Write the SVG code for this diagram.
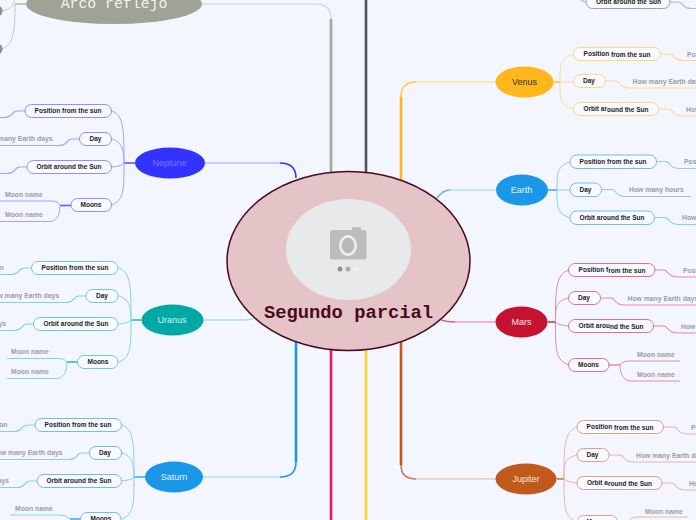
<svg xmlns="http://www.w3.org/2000/svg" width="696" height="520" viewBox="0 0 696 520">
<style>
text{font-family:"Liberation Sans",Arial,sans-serif}
.b text,text.b{font-size:6.5px;font-weight:700;fill:#1c1c24;text-anchor:middle}
.b rect{fill:#f8faff;stroke-width:1}
.s{font-size:6.8px;font-weight:700;fill:#9c9ca8}
.e{text-anchor:end}
.p{font-size:9px;text-anchor:middle}
#connectors path{fill:none;stroke-width:1}
#connectors .h{stroke-width:1.6}
#connectors .t{stroke-width:2.6}
#connectors .k{stroke-width:1.6}
.nep rect{stroke:#8f8fff}.ura rect{stroke:#66cfcf}.sat rect{stroke:#70bdf0}.ven rect{stroke:#ffd681}.ear rect{stroke:#70bdf0}.mar rect{stroke:#e2728c}.jup rect{stroke:#dda283}.gry rect{stroke:#9aa0ac}
path.nep{stroke:#a3a3ff}path.ura{stroke:#80d6d6}path.sat{stroke:#8ccbf4}path.ven{stroke:#ffd88c}path.ear{stroke:#8ccbf4}path.mar{stroke:#e88aa0}path.jup{stroke:#e5b8a0}path.gry{stroke:#b4b8c2}path.arc{stroke:#c6c9bf}
path.nep.h{stroke:#5c5cff}path.ura.h{stroke:#33bcbc}path.sat.h{stroke:#48acec}path.ven.h{stroke:#ffc440}path.ear.h{stroke:#48acec}path.mar.h{stroke:#d23c5c}path.jup.h{stroke:#cc7a48}
path.nep.k{stroke:#bcbcff}path.ura.k{stroke:#a5e3e3}path.sat.k{stroke:#b5ddf8}path.ven.k{stroke:#ffe0a0}path.ear.k{stroke:#b5ddf8}path.mar.k{stroke:#f0a5b8}path.jup.k{stroke:#eccdb8}
</style>
<rect width="696" height="520" fill="#f3f6ff"/>
<g id="connectors">
<path class="t" d="M366,0V180" style="stroke:#555"/>
<path d="M202,4H316Q331,4 331,19" style="stroke:#cfd2c9;stroke-width:1.2"/>
<path class="t" d="M331,19V180" style="stroke:#a4a89a"/>
<path class="nep k" d="M205,163H280"/>
<path class="h" d="M280,163Q296,163 296,178" style="stroke:#3333ff"/>
<path class="ura k" d="M203.500,320H243Q250,320 256,318"/>
<path class="t" d="M296,340V462" style="stroke:#1b97e8"/>
<path class="sat k" d="M203,477H280"/>
<path class="h" d="M280,477Q296,477 296,462" style="stroke:#1b97e8"/>
<path class="t" d="M331,345V520" style="stroke:#e0185f"/>
<path class="t" d="M366,345V520" style="stroke:#ffd21f"/>
<path class="t" d="M401,340V465" style="stroke:#c05a1c"/>
<path class="h" d="M401,465Q401,479 416,479" style="stroke:#c87a48"/>
<path class="jup k" d="M416,479H496"/>
<path class="mar k" d="M496,322H455"/>
<path class="h" d="M455,322Q447,322 441,320" style="stroke:#e0607c"/>
<path class="ear k" d="M496,190H450"/>
<path class="h" d="M450,190Q443,190 437,198" style="stroke:#60b4ee"/>
<path class="ven k" d="M496,82H416"/>
<path class="h" d="M416,82Q401,82 401,97" style="stroke:#ffc440"/>
<path class="t" d="M401,97V182" style="stroke:#ffb71b"/>

<path class="arc h" d="M26,4H15" style="stroke:#b8bbb0"/>
<path class="arc" d="M15,-6C15,4 12,9 2,11M15,4C15,30 14,44 2,49"/>

<path class="nep h" d="M135,163H124"/>
<path class="nep" d="M124,163C124,130 124,116 112,111M124,163C124,150 122,142 112,139M124,163Q122,166 112,167M124,163C124,190 124,200 112,205"/>
<path class="nep" d="M25,111H18Q14,111 12,114Q9,117.500 4,117.500H-2M79.500,139H72Q69,139 67,142Q64,145.500 59,145.500H-2M27,167H20Q17,167 15,170Q12,173.500 7,173.500H-2" style="stroke-width:1.2"/>
<path class="nep h" d="M71,205.500H60"/>
<path class="nep" d="M60,205.500Q58,201 52,201H-2M60,205.500C60,216 56,221.500 49,221.500H-2"/>

<path class="ura h" d="M141.500,320H131"/>
<path class="ura" d="M131,320C131,287 131,273 119,268M131,320C131,307 129,299 119,296M131,320Q129,323 119,324M131,320C131,347 131,357 119,362"/>
<path class="ura" d="M31.500,268H25Q21,268 19,271Q16,274.500 11,274.500H-2M86,296H79Q76,296 74,299Q71,302.500 66,302.500H-2M33,324H27Q24,324 22,327Q19,330.500 14,330.500H-2" style="stroke-width:1.2"/>
<path class="ura h" d="M77.500,362H67"/>
<path class="ura" d="M67,362Q65,358.500 59,358.500H7M67,362C67,373 63,378.500 56,378.500H7"/>

<path class="sat h" d="M145,477H134"/>
<path class="sat" d="M134,477C134,444 134,430 122,425M134,477C134,464 132,456 122,453M134,477Q132,480 122,481M134,477C134,504 134,514 122,519"/>
<path class="sat" d="M34.700,425H28Q24,425 22,428Q19,431.500 14,431.500H-2M89,453H82Q79,453 77,456Q74,459.500 69,459.500H-2M36.500,481H30Q27,481 25,484Q22,487.500 17,487.500H-2" style="stroke-width:1.2"/>
<path class="sat h" d="M80,519H70"/>
<path class="sat" d="M70,519Q66,515 60,515H10"/>

<path class="gry" d="M578,-6Q579,1 586,2M670,2H678Q681,2 683,5Q686,8.500 691,8.500H698" style="stroke-width:1.2"/>

<path class="ven h" d="M553.500,82H560"/>
<path class="ven" d="M560,82C560,65 560,58 573.500,54M560,82H573.500M560,82C560,100 560,105 573.500,109"/>
<path class="ven" d="M660.500,54H670Q672,54 674,57Q677,60.500 684,60.500H698M605.500,81H616Q618,81 620,84Q623,88 630,88H698M658.500,109H669Q671,109 673,112Q676,116 683,116H698" style="stroke-width:1.2"/>

<path class="ear h" d="M548,190H557"/>
<path class="ear" d="M557,190C557,173 557,166 570,162M557,190H570M557,190C557,208 557,213 570,218"/>
<path class="ear" d="M656.500,161.500H666Q668,161.500 670,164.500Q673,168.500 680,168.500H698M601.500,189.500H612Q614,189.500 616,192.500Q619,196.500 626,196.500H691M654.500,217.500H665Q667,217.500 669,220.500Q672,224.500 679,224.500H698" style="stroke-width:1.2"/>

<path class="mar h" d="M547.500,322H555.500"/>
<path class="mar" d="M555.500,322C555.500,290 555.500,275 568.500,270M555.500,322C555.500,308 555.500,301 568.500,298M555.500,322Q558,325 568.500,326M555.500,322C555.500,350 555.500,360 568.500,365"/>
<path class="mar" d="M655,270H664Q666,270 668,273Q671,277 678,277H698M600.500,298H611Q613,298 615,301Q618,305 625,305H698M653.500,326H664Q666,326 668,329Q671,333 678,333H698" style="stroke-width:1.2"/>
<path class="mar k" d="M609,365H620" style="stroke-width:2"/>
<path class="mar" d="M620,365Q622,361 630,361H680M620,365C620,375 624,381 632,381H680"/>

<path class="jup h" d="M556.500,479H564"/>
<path class="jup" d="M564,479C564,447 564,432 577,427M564,479C564,465 564,458 577,455M564,479Q567,482 577,483M564,479C564,507 564,517 577,522"/>
<path class="jup" d="M663.500,427H674Q676,427 678,430Q681,434 688,434H698M609,455H620Q622,455 624,458Q627,462 634,462H698M662,483H672Q674,483 676,486Q679,490 686,490H698" style="stroke-width:1.2"/>
<path class="jup h" d="M617.500,522H628"/>
<path class="jup" d="M628,522Q630,517 638,517H688M628,522C628,532 632,538 640,538H688"/>
</g>

<g id="arco"><ellipse cx="114" cy="4" rx="88" ry="20" fill="#9ea395"/><text x="114" y="8" text-anchor="middle" style="font-family:'Liberation Mono',monospace;font-size:14.800px;fill:#f2f3ee">Arco reflejo</text></g>
<g id="arco-a"><circle cx="-3" cy="11" r="5.500" fill="#8c9080"/></g>
<g id="arco-b"><circle cx="-3" cy="49" r="5.500" fill="#8c9080"/></g>

<g id="center">
<ellipse cx="348.500" cy="261" rx="121.500" ry="89.500" fill="#e5c4c8" stroke="#4a0a1e" stroke-width="1.500"/>
<ellipse cx="348.500" cy="249.500" rx="62.500" ry="50.500" fill="#e8e9eb"/>
<rect x="352" y="227" width="9" height="5" rx="1" fill="#bcbcbc"/>
<rect x="330" y="230" width="36.500" height="29.500" rx="2.500" fill="#bcbcbc"/>
<ellipse cx="348" cy="245.500" rx="9" ry="10.500" fill="#eceded"/>
<ellipse cx="348" cy="245.500" rx="6.300" ry="7.700" fill="#b8b8b8"/>
<circle cx="340" cy="269" r="2.500" fill="#909090"/><circle cx="348" cy="269" r="2.500" fill="#aaa"/><circle cx="356" cy="269" r="2.500" fill="#eef0f1"/>
<text x="348.500" y="318" text-anchor="middle" style="font-family:'Liberation Mono',monospace;font-weight:700;font-size:18.800px;fill:#4a0a1e">Segundo parcial</text>
</g>

<g id="neptune"><ellipse cx="170" cy="163" rx="35" ry="15.500" fill="#3333ff"/><text class="p" x="169.500" y="166" fill="#7a7aff">Neptune</text></g>
<g id="nep-pos" class="b nep"><rect x="25" y="104.500" width="86.500" height="13" rx="6.500"/><text x="68" y="113">Position from the sun</text></g>
<g id="nep-day" class="b nep"><rect x="79.500" y="132.500" width="32" height="13" rx="6.500"/><text x="95.500" y="141">Day</text></g>
<g id="nep-orb" class="b nep"><rect x="27" y="160.500" width="84.500" height="13" rx="6.500"/><text x="69" y="169">Orbit around the Sun</text></g>
<g id="nep-moons" class="b nep"><rect x="71" y="198.500" width="40.500" height="13" rx="6.500"/><text x="91" y="207">Moons</text></g>
<g id="nep-t"><text class="s e" x="52.500" y="141">How many Earth days</text><text class="s" x="5" y="197">Moon name</text><text class="s" x="5" y="217">Moon name</text></g>

<g id="uranus"><ellipse cx="172.500" cy="320" rx="31" ry="15.500" fill="#00a9a5"/><text class="p" x="172" y="323" fill="#d4f4f2">Uranus</text></g>
<g id="ura-pos" class="b ura"><rect x="31.500" y="261.500" width="86.500" height="13" rx="6.500"/><text x="75" y="270">Position from the sun</text></g>
<g id="ura-day" class="b ura"><rect x="86" y="289.500" width="32" height="13" rx="6.500"/><text x="102" y="298">Day</text></g>
<g id="ura-orb" class="b ura"><rect x="33.500" y="317.500" width="84.500" height="13" rx="6.500"/><text x="76" y="326">Orbit around the Sun</text></g>
<g id="ura-moons" class="b ura"><rect x="77.500" y="355.500" width="40.500" height="13" rx="6.500"/><text x="98" y="364">Moons</text></g>
<g id="ura-t"><text class="s e" x="4" y="270">Position</text><text class="s e" x="59" y="298">How many Earth days</text><text class="s e" x="6" y="326">How many Earth days</text><text class="s" x="11" y="354">Moon name</text><text class="s" x="11" y="374">Moon name</text></g>

<g id="saturn"><ellipse cx="174" cy="477" rx="29" ry="15.500" fill="#1b97e8"/><text class="p" x="174" y="480" fill="#e4f3fc">Saturn</text></g>
<g id="sat-pos" class="b sat"><rect x="35" y="418.500" width="86.500" height="13" rx="6.500"/><text x="78" y="427">Position from the sun</text></g>
<g id="sat-day" class="b sat"><rect x="89.500" y="446.500" width="32" height="13" rx="6.500"/><text x="105" y="455">Day</text></g>
<g id="sat-orb" class="b sat"><rect x="37" y="474.500" width="84.500" height="13" rx="6.500"/><text x="79" y="483">Orbit around the Sun</text></g>
<g id="sat-moons" class="b sat"><rect x="80.500" y="512.500" width="40.500" height="13" rx="6.500"/><text x="101" y="521">Moons</text></g>
<g id="sat-t"><text class="s e" x="7.500" y="427">Position</text><text class="s e" x="62.500" y="455">How many Earth days</text><text class="s e" x="9" y="483">How many Earth days</text><text class="s" x="15" y="511">Moon name</text></g>

<g id="gry-orb" class="b gry"><rect x="586" y="-4.500" width="84" height="13" rx="6.500"/><text x="628.500" y="4">Orbit around the Sun</text></g>

<g id="venus"><ellipse cx="524.500" cy="82" rx="29" ry="15.500" fill="#ffb71b"/><text class="p" x="524.500" y="85" fill="#33302a">Venus</text></g>
<g id="ven-pos" class="b ven"><rect x="573.500" y="47.500" width="87" height="13" rx="6.500"/><text x="617" y="56.500"><tspan dy="-1">Position</tspan><tspan dy="1"> from the sun</tspan></text></g>
<g id="ven-day" class="b ven"><rect x="573.500" y="74.500" width="32" height="13" rx="6.500"/><text x="589" y="82.500">Day</text></g>
<g id="ven-orb" class="b ven"><rect x="573.500" y="102.500" width="85" height="13" rx="6.500"/><text x="616" y="111.500"><tspan dy="-1">Orbit ar</tspan><tspan dy="1">ound the Sun</tspan></text></g>
<g id="ven-t"><text class="s" x="687" y="57">Position</text><text class="s" x="632.500" y="84">How many Earth days</text><text class="s" x="686" y="112">How many Earth days</text></g>

<g id="earth"><ellipse cx="522" cy="190" rx="26" ry="15.500" fill="#1b97e8"/><text class="p" x="521.500" y="193" fill="#e4f3fc">Earth</text></g>
<g id="ear-pos" class="b ear"><rect x="570" y="155" width="86.500" height="13.500" rx="6.700"/><text x="613" y="164">Position from the sun</text></g>
<g id="ear-day" class="b ear"><rect x="570" y="183" width="31.500" height="13.500" rx="6.700"/><text x="585.500" y="192">Day</text></g>
<g id="ear-orb" class="b ear"><rect x="570" y="211" width="84.500" height="13.500" rx="6.700"/><text x="612" y="220">Orbit around the Sun</text></g>
<g id="ear-t"><text class="s" x="684" y="164">Position</text><text class="s" x="629" y="192">How many hours</text><text class="s" x="682" y="220">How many Earth days</text></g>

<g id="mars"><ellipse cx="521.500" cy="322" rx="26" ry="15.500" fill="#c41230"/><text class="p" x="521.500" y="325" fill="#fbe3e7">Mars</text></g>
<g id="mar-pos" class="b mar"><rect x="568.500" y="263.500" width="86.500" height="13" rx="6.500"/><text x="612" y="272.500"><tspan dy="-1">Position f</tspan><tspan dy="1">rom the sun</tspan></text></g>
<g id="mar-day" class="b mar"><rect x="568.500" y="291.500" width="32" height="13" rx="6.500"/><text x="584" y="299.500">Day</text></g>
<g id="mar-orb" class="b mar"><rect x="568.500" y="319.500" width="85" height="13" rx="6.500"/><text x="611" y="328.500"><tspan dy="-1">Orbit arou</tspan><tspan dy="1">nd the Sun</tspan></text></g>
<g id="mar-moons" class="b mar"><rect x="568.500" y="358.500" width="40.500" height="13" rx="6.500"/><text x="588.500" y="367">Moons</text></g>
<g id="mar-t"><text class="s" x="683" y="273">Position</text><text class="s" x="627.500" y="301">How many Earth days</text><text class="s" x="681" y="329">How many Earth days</text><text class="s" x="637" y="357">Moon name</text><text class="s" x="637" y="377">Moon name</text></g>

<g id="jupiter"><ellipse cx="526" cy="479" rx="30.500" ry="15.500" fill="#c05a1c"/><text class="p" x="526" y="482" fill="#fbe6d8">Jupiter</text></g>
<g id="jup-pos" class="b jup"><rect x="577" y="420.500" width="86.500" height="13" rx="6.500"/><text x="620" y="429.500"><tspan dy="-1">Position</tspan><tspan dy="1"> from the sun</tspan></text></g>
<g id="jup-day" class="b jup"><rect x="577" y="448.500" width="32" height="13" rx="6.500"/><text x="592.500" y="456.500">Day</text></g>
<g id="jup-orb" class="b jup"><rect x="577" y="476.500" width="85" height="13" rx="6.500"/><text x="619.500" y="485.500"><tspan dy="-1">Orbit a</tspan><tspan dy="1">round the Sun</tspan></text></g>
<g id="jup-moons" class="b jup"><rect x="577" y="515.500" width="40.500" height="13" rx="6.500"/><text x="597" y="524">Moons</text></g>
<g id="jup-t"><text class="s" x="691" y="430">Position</text><text class="s" x="636" y="458">How many Earth days</text><text class="s" x="689" y="486">How many Earth days</text><text class="s" x="645" y="514">Moon name</text></g>
</svg>
